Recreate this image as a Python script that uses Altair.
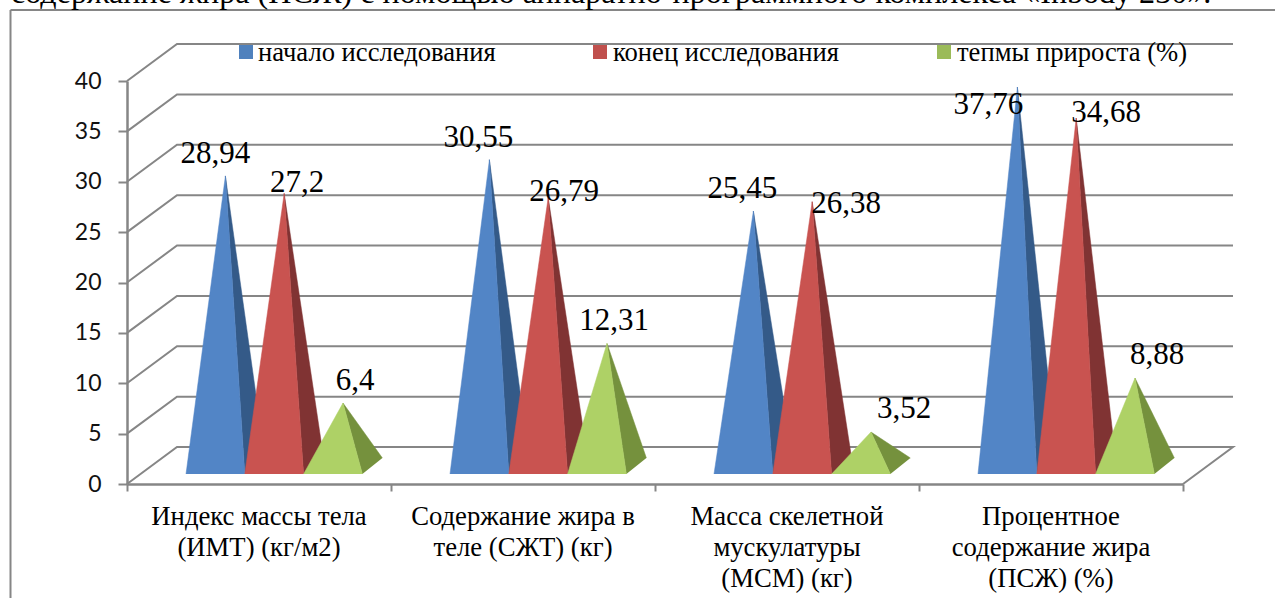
import altair as alt
import pandas as pd

# Series values per category
categories = [
    "Индекс массы тела\n(ИМТ) (кг/м2)",
    "Содержание жира в\nтеле (СЖТ) (кг)",
    "Масса скелетной\nмускулатуры\n(МСМ) (кг)",
    "Процентное\nсодержание жира\n(ПСЖ) (%)",
]
start_values = [28.94, 30.55, 25.45, 37.76]
end_values = [27.2, 26.79, 26.38, 34.68]
growth_values = [6.4, 12.31, 3.52, 8.88]
series_names = ["начало исследования", "конец исследования", "тепмы прироста (%)"]
y_ticks = [0, 5, 10, 15, 20, 25, 30, 35, 40]
x_ticks = [0, 1, 2, 3, 4]
caption = "содержание жира (ПСЖ) с помощью аппаратно-программного комплекса «Inbody 230»."

# Styling
front_colors = ["#5285C6", "#C95350", "#AED166"]
side_colors = ["#345A88", "#803333", "#75913D"]
legend_colors = ["#4F81BD", "#C0504D", "#9BBB59"]
GRID = "#868686"
SERIF = "Liberation Serif"
SANS = "Lato"

# Layout: plot area is the front plane of the 3D box, in canvas pixels
LEFT, TOP, W, H = 127, 81, 1056, 403
CANVAS_W, CANVAS_H = 1275, 598
PX_PER_CAT = W / 4
PX_PER_UNIT = H / 40
BOX_DX, BOX_DY = 50, 37        # depth of the box
PYR_W = 58.8                   # pyramid base width
PYR_DX, PYR_DY = 20, 16        # pyramid depth
BASE_LEFT = 59                 # first pyramid base, from category start
BASE_LIFT, APEX_LIFT = 10, 16.5  # floor height of base front and apex centre
legend_square_px = [246, 600, 944]
legend_text_px = [258, 613, 957]
# Data label offsets from each apex (dx, baseline above apex), by series then category
label_dx = [[-10, -11, -11, -29], [13, 16, 34, 30], [12, 7, 33, 22]]
label_dy = [[13, 12.7, 13, -27], [1.5, -3.4, -11, -4], [13, 13.5, 14, 14]]


def ux(px):
    return (px - LEFT) / PX_PER_CAT


def uy(py):
    return (TOP + H - py) / PX_PER_UNIT


# Every layer shares these position channels, so the axes merge into one pair
X = alt.X(
    "x:Q",
    title=None,
    scale=alt.Scale(domain=[0, 4], nice=False, zero=False),
    axis=alt.Axis(
        values=x_ticks, labels=False, grid=False, domainColor=GRID, domainWidth=2.5,
        tickColor=GRID, tickWidth=2, tickSize=7, title=None,
    ),
)
Y = alt.Y(
    "y:Q",
    title=None,
    scale=alt.Scale(domain=[0, 40], nice=False, zero=False),
    axis=alt.Axis(
        values=y_ticks, format="d", grid=False, domainColor=GRID, domainWidth=2.5,
        tickColor=GRID, tickWidth=2, tickSize=9, labelFont=SANS, labelFontSize=23,
        labelColor="#111111", labelPadding=17, title=None,
    ),
)

# Back wall and side wall grid
grid_rows = []
for v in y_ticks:
    pts = [(0, v), (BOX_DX / PX_PER_CAT, v + BOX_DY / PX_PER_UNIT), (4 + BOX_DX / PX_PER_CAT, v + BOX_DY / PX_PER_UNIT)]
    if v == 0:
        pts.append((4, 0))
    for i, (x, y) in enumerate(pts):
        grid_rows.append({"x": x, "y": y, "g": v, "o": i})

grid = alt.Chart(pd.DataFrame(grid_rows)).mark_line(color=GRID, strokeWidth=2, clip=False).encode(
    x=X, y=Y, detail="g:N", order="o:Q"
)

# Pyramids: one side face and one front face per series, painted left to right
all_values = [start_values, end_values, growth_values]
pyramid_layers = []
label_rows = []
for s, values in enumerate(all_values):
    front_rows, side_rows = [], []
    for c, v in enumerate(values):
        x0 = c + (BASE_LEFT + s * PYR_W) / PX_PER_CAT
        x1 = x0 + PYR_W / PX_PER_CAT
        apex_x = (x0 + x1) / 2 + (PYR_DX / 2) / PX_PER_CAT
        apex_y = v + APEX_LIFT / PX_PER_UNIT
        base_y = BASE_LIFT / PX_PER_UNIT
        back_x = x1 + PYR_DX / PX_PER_CAT
        back_y = base_y + PYR_DY / PX_PER_UNIT
        for i, (x, y) in enumerate([(x0, base_y), (apex_x, apex_y), (x1, base_y)]):
            front_rows.append({"x": x, "y": y, "g": c, "o": i})
        for i, (x, y) in enumerate([(x1, base_y), (apex_x, apex_y), (back_x, back_y)]):
            side_rows.append({"x": x, "y": y, "g": c, "o": i})
        label_rows.append({
            "x": apex_x + label_dx[s][c] / PX_PER_CAT,
            "y": apex_y + label_dy[s][c] / PX_PER_UNIT,
            "t": str(v).replace(".", ","),
        })
    for rows, color in ((side_rows, side_colors[s]), (front_rows, front_colors[s])):
        pyramid_layers.append(
            alt.Chart(pd.DataFrame(rows))
            .mark_line(fill=color, stroke=color, strokeWidth=0.5, clip=False)
            .encode(x=X, y=Y, detail="g:N", order="o:Q")
        )

value_labels = alt.Chart(pd.DataFrame(label_rows)).mark_text(
    font=SERIF, fontSize=31, color="#000000", align="center", baseline="alphabetic"
).encode(x=X, y=Y, text="t:N")

# Category captions under the axis
category_labels = alt.Chart(
    pd.DataFrame({"x": [c + 0.5 for c in range(4)], "y": [uy(525)] * 4, "t": categories})
).mark_text(
    font=SERIF, fontSize=26.7, color="#000000", align="center", baseline="alphabetic",
    lineBreak="\n", lineHeight=31,
).encode(x=X, y=Y, text="t:N")

# Legend along the top of the back wall
legend_squares = alt.Chart(
    pd.DataFrame({"x": [ux(p) for p in legend_square_px], "y": [uy(52)] * 3, "c": legend_colors})
).mark_square(size=196, opacity=1).encode(x=X, y=Y, color=alt.Color("c:N", scale=None, legend=None))

legend_labels = alt.Chart(
    pd.DataFrame({"x": [ux(p) for p in legend_text_px], "y": [uy(61)] * 3, "t": series_names})
).mark_text(
    font=SERIF, fontSize=26.6, color="#000000", align="left", baseline="alphabetic"
).encode(x=X, y=Y, text="t:N")

# Outer frame and the line of running text above it
frame_top = alt.Chart(pd.DataFrame({"x": [ux(10.5)], "x2": [ux(CANVAS_W)], "y": [uy(10)]})).mark_rule(
    color=GRID, strokeWidth=2, clip=False
).encode(x=X, x2="x2:Q", y=Y)
frame_left = alt.Chart(pd.DataFrame({"x": [ux(10.5)], "y": [uy(10)], "y2": [uy(CANVAS_H)]})).mark_rule(
    color=GRID, strokeWidth=2, clip=False
).encode(x=X, y=Y, y2="y2:Q")
top_text = alt.Chart(pd.DataFrame({"x": [ux(11)], "y": [uy(3)], "t": [caption]})).mark_text(
    font=SERIF, fontSize=32.1, color="#000000", align="left", baseline="alphabetic"
).encode(x=X, y=Y, text="t:N")

chart = alt.layer(
    grid, *pyramid_layers, value_labels, category_labels, legend_squares, legend_labels,
    frame_top, frame_left, top_text,
).properties(
    width=W,
    height=H,
    autosize=alt.AutoSizeParams(type="none"),
    padding={"left": LEFT, "top": TOP, "right": CANVAS_W - LEFT - W, "bottom": CANVAS_H - TOP - H},
    background="white",
).configure_view(stroke=None)

chart.save("out.html", embed_options={"renderer": "svg", "actions": False})
